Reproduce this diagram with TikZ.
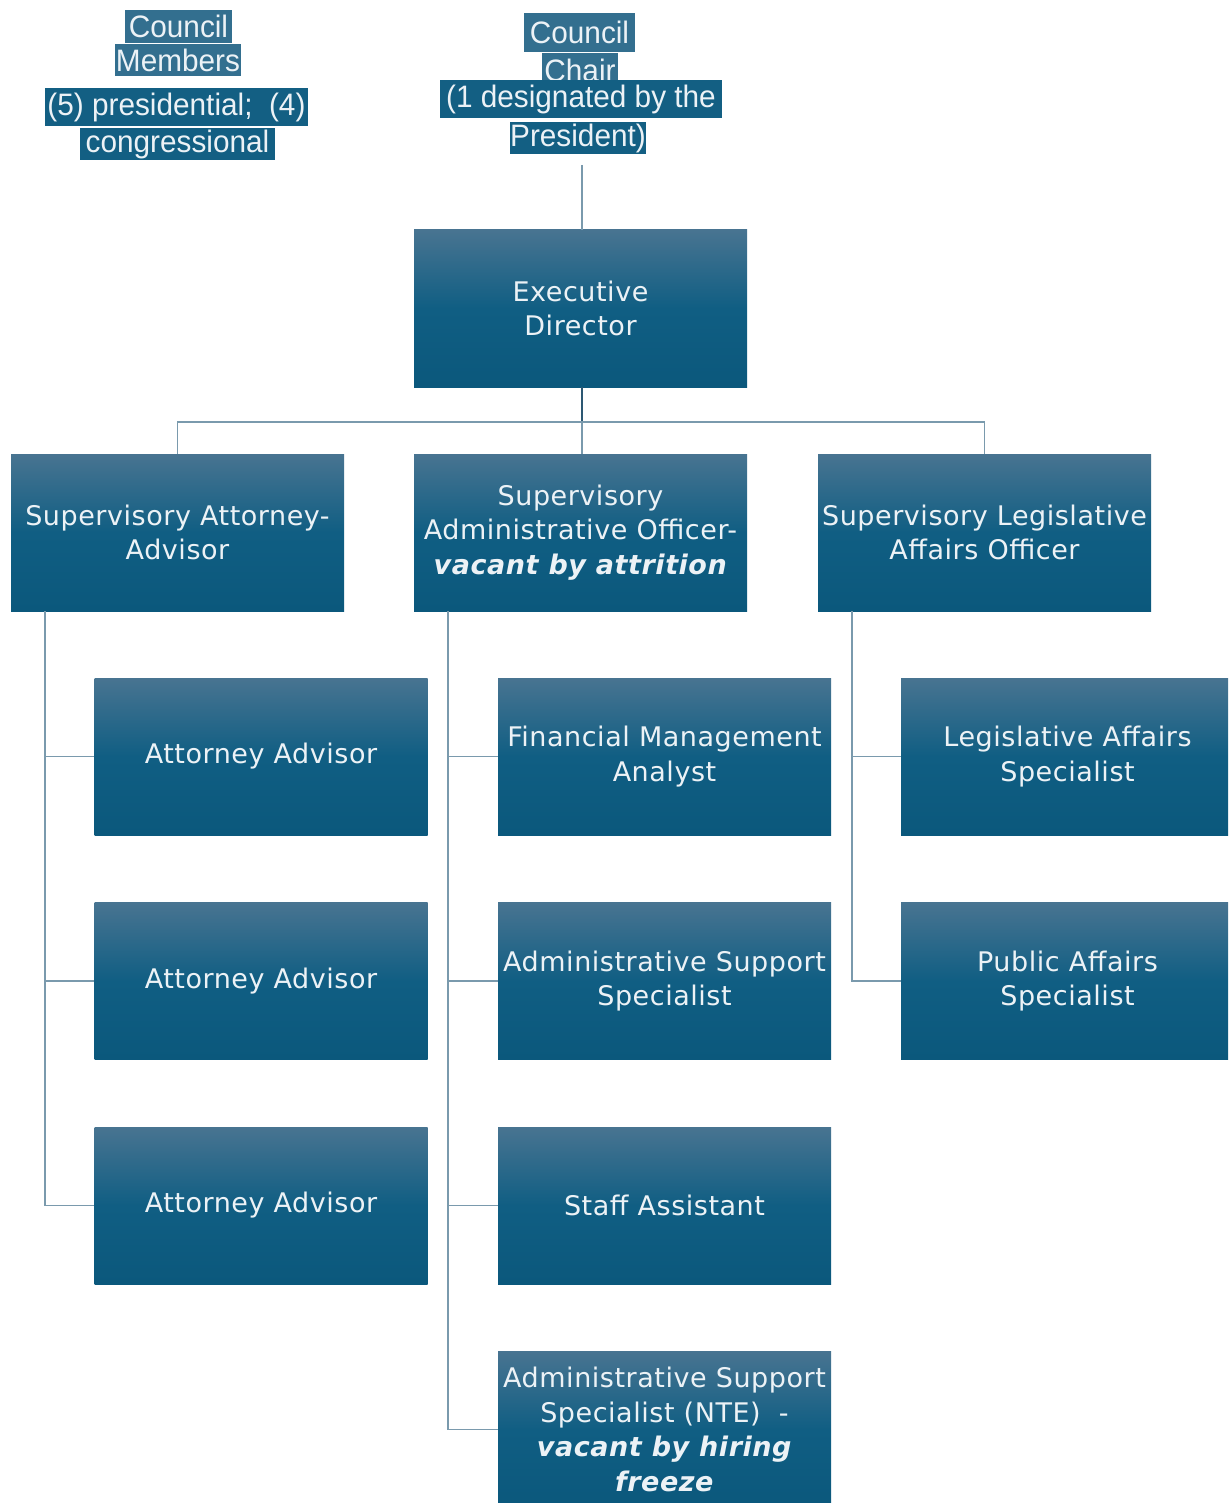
\documentclass[tikz,border=0pt]{standalone}
\usepackage{fontspec}
\setmainfont[LetterSpace=2]{DejaVu Sans}
\newfontfamily\hlfont[FakeStretch=0.96]{Liberation Sans}
\usetikzlibrary{calc}
\definecolor{boxtop}{RGB}{72,116,145}
\definecolor{boxmid}{RGB}{16,94,131}
\definecolor{boxbot}{RGB}{11,88,124}
\definecolor{txt}{RGB}{236,242,246}
\definecolor{conn}{RGB}{122,154,173}
\definecolor{conndark}{RGB}{45,88,115}
\definecolor{hllight}{RGB}{51,111,143}
\definecolor{hldark}{RGB}{19,95,131}
\tikzset{
  orgbox/.style={rectangle, inner sep=0pt, minimum width=333pt, minimum height=157pt,
    top color=boxtop, bottom color=boxbot, middle color=boxmid,
    text=txt, align=center, font=\fontsize{27}{34.5}\selectfont},
  hl/.style={rectangle, inner sep=0pt, text=txt, font=\hlfont\fontsize{31}{31}\selectfont},
  hlA/.style={hl, fill=hllight},
  hlB/.style={hl, fill=hldark},
  link/.style={draw=conn, line width=1.5pt},
  linkd/.style={draw=conndark, line width=1.5pt}
}
\begin{document}
\begin{tikzpicture}[x=1pt,y=-1pt]
\useasboundingbox (0,0) rectangle (1228,1503);
\clip (0,0) rectangle (1228,1503);
% top-left highlighted labels
\node[hlA, minimum width=107pt, minimum height=33pt] (cm1) at (178.5,26.5) {Council};
\node[hlA, minimum width=126pt, minimum height=32pt] (cm2) at (178,60) {Members};
\node[hlB, minimum width=263pt, minimum height=38pt] (cm3) at (176.5,107) {(5) presidential;\ \ (4)};
\node[hlB, minimum width=195pt, minimum height=32pt] (cm4) at (177.5,144) {congressional};
% top-middle highlighted labels
\node[hlA, minimum width=111pt, minimum height=39pt] (cc1) at (579.5,32.5) {Council};
\node[hlA, minimum width=76pt, minimum height=34pt] (cc2) at (580,70) {Chair};
\node[hlB, minimum width=282pt, minimum height=38pt] (cc3) at (581,99) {(1 designated by the};
\node[hlB, minimum width=136pt, minimum height=32pt] (cc4) at (578,138) {President)};
\coordinate (chairend) at (582,165);
% boxes
\node[orgbox] (ed) at (580.5,308.5) {Executive\\Director};
\node[orgbox] (sat) at (177.5,532.5) {Supervisory Attorney-\\Advisor};
\node[orgbox] (sao) at (580.5,532.5) {Supervisory\\Administrative Officer-\\\textbf{\textit{vacant by attrition}}};
\node[orgbox] (sla) at (984.5,532.5) {Supervisory Legislative\\Affairs Officer};
\node[orgbox] (aa1) at (261,756.5) {Attorney Advisor};
\node[orgbox] (aa2) at (261,981) {Attorney Advisor};
\node[orgbox] (aa3) at (261,1205.5) {Attorney Advisor};
\node[orgbox] (fma) at (664.5,756.5) {Financial Management\\Analyst};
\node[orgbox] (ass) at (664.5,981) {Administrative Support\\Specialist};
\node[orgbox] (sta) at (664.5,1205.5) {Staff Assistant};
\node[orgbox] (asn) at (664.5,1429.5) {Administrative Support\\Specialist (NTE)\ \ -\\\textbf{\textit{vacant by hiring}}\\\textbf{\textit{freeze}}};
\node[orgbox] (las) at (1067.5,756.5) {Legislative Affairs\\Specialist};
\node[orgbox] (pas) at (1067.5,981) {Public Affairs\\Specialist};
% connectors
\draw[link] (chairend) -- (chairend |- ed.north);
\coordinate (bus) at ($(ed.south)+(1.5,35)$);
\draw[linkd] (ed.south -| bus) -- (bus);
\draw[link] (bus) -- (bus |- sao.north);
\draw[link] (sat.north) |- (bus) -| (sla.north);
\coordinate (lv) at ($(sat.south west)+(34,0)$);
\coordinate (mv) at ($(sao.south west)+(34,0)$);
\coordinate (rv) at ($(sla.south west)+(34,0)$);
\draw[link] (lv) |- (aa1.west);
\draw[link] (lv) |- (aa2.west);
\draw[link] (lv) |- (aa3.west);
\draw[link] (mv) |- (fma.west);
\draw[link] (mv) |- (ass.west);
\draw[link] (mv) |- (sta.west);
\draw[link] (mv) |- (asn.west);
\draw[link] (rv) |- (las.west);
\draw[link] (rv) |- (pas.west);
\end{tikzpicture}
\end{document}
